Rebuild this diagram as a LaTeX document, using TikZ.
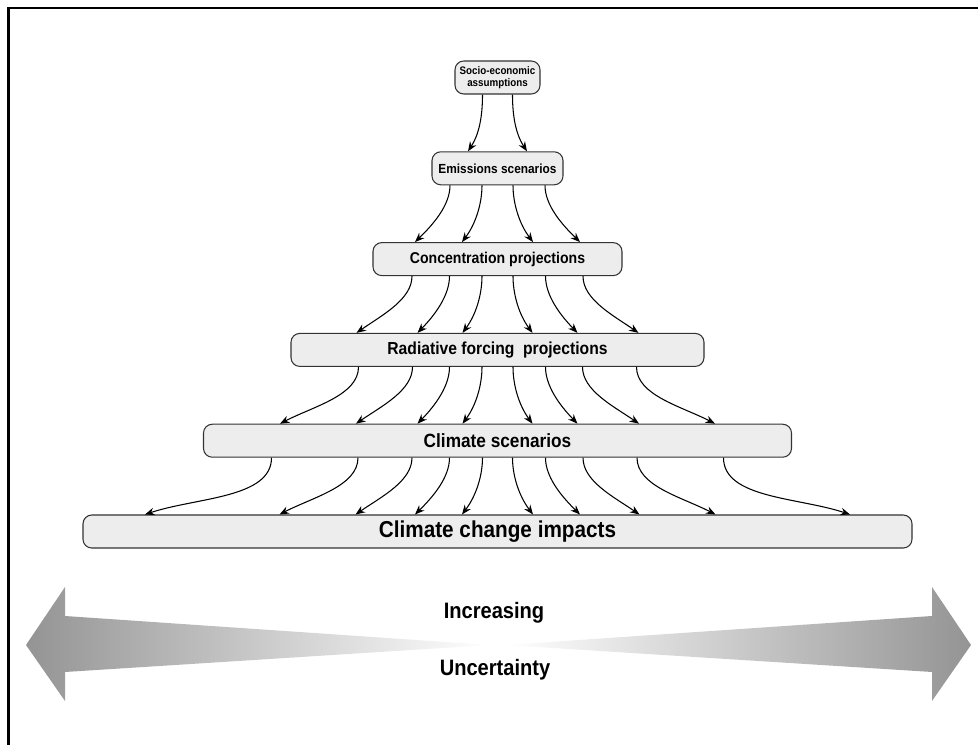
\documentclass[tikz,border=0pt]{standalone}
\usepackage{fontspec}
\setmainfont{Liberation Sans}[FakeStretch=0.9]
\usepackage{tikz}
\usetikzlibrary{arrows.meta, positioning, calc}

% one fan of curved arrows between two boxes, mirrored about the middle
\newcommand{\fanflow}[3]{%
  \foreach \xa/\xb in {#3}
    \foreach \sg in {-1,1} {
      \pgfmathsetmacro{\sx}{\sg*\xa}
      \pgfmathsetmacro{\ex}{\sg*\xb}
      \pgfmathsetmacro{\inang}{90+\sg*(90-0.75*atan(1.16/(\xb-\xa)))}
      \draw[flow] ([xshift=\sx cm]#1.south) to[out=-90,in=\inang,out looseness=0.75] ([xshift=\ex cm]#2.north);
    }}

\begin{document}
\begin{tikzpicture}[
    box/.style={draw=black!80, fill=black!7, rounded corners=5pt, line width=0.6pt,
                minimum height=0.66cm, inner sep=1pt, align=center},
    flow/.style={line width=0.6pt, -{Stealth[length=1.9mm, width=1.5mm]}},
    node distance=1.135cm]
    \useasboundingbox (0,0) rectangle (19.56,-14.9);
    \draw[line width=1.3pt] (0.17,-14.9) -- (0.17,-0.16) -- (19.56,-0.16);

    % the cascade of boxes
    \node[box, minimum width=1.7cm, font={\bfseries\fontsize{6.2}{7}\selectfont}] (socio) at (9.95,-1.55) {Socio-economic\\assumptions};
    \node[box, minimum width=2.62cm, below=of socio, font={\bfseries\fontsize{7.5}{9}\selectfont}] (emis) {Emissions scenarios};
    \node[box, minimum width=4.98cm, below=of emis, font={\bfseries\fontsize{8.9}{10}\selectfont}] (conc) {Concentration projections};
    \node[box, minimum width=8.26cm, below=of conc, font={\bfseries\fontsize{9.9}{11}\selectfont}] (rad) {Radiative forcing\ \ projections};
    \node[box, minimum width=11.76cm, below=of rad, font={\bfseries\fontsize{10.9}{12}\selectfont}] (clim) {Climate scenarios};
    \node[box, minimum width=16.58cm, below=of clim, font={\bfseries\fontsize{13.1}{15}\selectfont}] (imp) {Climate change impacts};

    \fanflow{socio}{emis}{0.3/0.59}
    \fanflow{emis}{conc}{0.31/0.71, 0.95/1.65}
    \fanflow{conc}{rad}{0.31/0.7, 0.96/1.6, 1.71/2.82}
    \fanflow{rad}{clim}{0.31/0.7, 0.96/1.6, 1.7/2.83, 2.78/4.35}
    \fanflow{clim}{imp}{0.3/0.71, 0.96/1.65, 1.71/2.84, 2.79/4.36, 4.52/7.05}

    % uncertainty arrows
    \shade[left color=black!42, right color=white]
        (9.8,-12.9) -- (1.3,-12.32) -- (1.3,-11.74) -- (0.52,-12.9) -- (1.3,-14.02) -- (1.3,-13.44) -- cycle;
    \shade[left color=white, right color=black!42]
        (10.1,-12.9) -- (18.64,-12.32) -- (18.64,-11.74) -- (19.42,-12.9) -- (18.64,-14.02) -- (18.64,-13.44) -- cycle;
    \node[font={\bfseries\fontsize{12.7}{14}\selectfont}] (incr) at (9.88,-12.26) {Increasing};
    \node[font={\bfseries\fontsize{12.7}{14}\selectfont}] (unc) at (9.9,-13.4) {Uncertainty};
\end{tikzpicture}
\end{document}
